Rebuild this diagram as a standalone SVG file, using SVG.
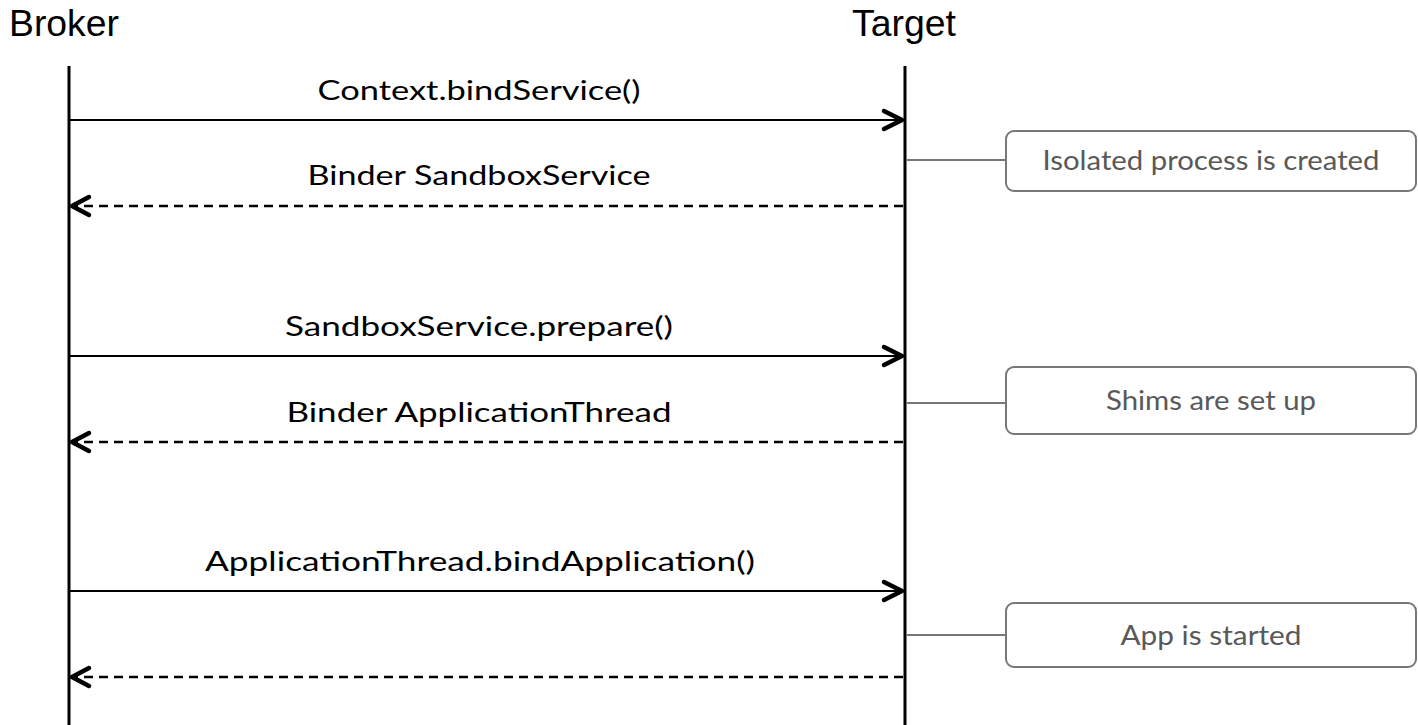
<svg xmlns="http://www.w3.org/2000/svg" width="1418" height="725" viewBox="0 0 1418 725">
  <style>
    .actor { font-family: "Liberation Sans", Arial, sans-serif; font-size: 36px; fill: #000; }
    .lifeline { stroke: #000; stroke-width: 3; fill: none; }
    .msg { stroke: #000; stroke-width: 2.2; fill: none; }
    .ret { stroke: #000; stroke-width: 2.5; fill: none; stroke-dasharray: 9 6; }
    .head { stroke: #000; stroke-width: 4.5; fill: none; stroke-linecap: round; stroke-linejoin: round; }
    .label { font-family: Lato, "Open Sans", sans-serif; font-size: 27px; fill: #000; text-anchor: middle; }
    .note rect { fill: #fff; stroke: #777; stroke-width: 2; }
    .note text { font-family: Lato, "Open Sans", sans-serif; font-size: 27px; fill: #595959; text-anchor: middle; }
    .tie { stroke: #777; stroke-width: 2; }
  </style>

  <!-- participants -->
  <g id="broker">
    <text class="actor" x="9" y="36" textLength="110" lengthAdjust="spacingAndGlyphs">Broker</text>
    <line class="lifeline" x1="69" y1="66" x2="69" y2="725"/>
  </g>
  <g id="target">
    <text class="actor" x="852" y="36" textLength="104" lengthAdjust="spacingAndGlyphs">Target</text>
    <line class="lifeline" x1="905" y1="66" x2="905" y2="725"/>
  </g>

  <!-- messages -->
  <g id="connectors">
    <line class="msg" x1="70" y1="120" x2="902" y2="120"/>
    <polyline class="head" points="884,111 902,120 884,129"/>
    <text class="label" x="479" y="100" textLength="323" lengthAdjust="spacingAndGlyphs">Context.bindService()</text>

    <line class="ret" x1="903" y1="206" x2="74" y2="206"/>
    <polyline class="head" points="89,197 72,206 89,215"/>
    <text class="label" x="479" y="185" textLength="343" lengthAdjust="spacingAndGlyphs">Binder SandboxService</text>

    <line class="msg" x1="70" y1="356" x2="902" y2="356"/>
    <polyline class="head" points="884,347 902,356 884,365"/>
    <text class="label" x="479" y="336" textLength="388" lengthAdjust="spacingAndGlyphs">SandboxService.prepare()</text>

    <line class="ret" x1="903" y1="442" x2="74" y2="442"/>
    <polyline class="head" points="89,433 72,442 89,451"/>
    <text class="label" x="479" y="422" textLength="385" lengthAdjust="spacingAndGlyphs">Binder ApplicationThread</text>

    <line class="msg" x1="70" y1="591" x2="902" y2="591"/>
    <polyline class="head" points="884,582 902,591 884,600"/>
    <text class="label" x="480" y="571" textLength="550" lengthAdjust="spacingAndGlyphs">ApplicationThread.bindApplication()</text>

    <line class="ret" x1="903" y1="677" x2="74" y2="677"/>
    <polyline class="head" points="89,668 72,677 89,686"/>

    <!-- note ties -->
    <line class="tie" x1="906" y1="160" x2="1006" y2="160"/>
    <line class="tie" x1="906" y1="403" x2="1006" y2="403"/>
    <line class="tie" x1="906" y1="635" x2="1006" y2="635"/>
  </g>

  <!-- notes -->
  <g id="note-created" class="note">
    <rect x="1006" y="131" width="410" height="60" rx="8"/>
    <text x="1211" y="170" textLength="337" lengthAdjust="spacingAndGlyphs">Isolated process is created</text>
  </g>
  <g id="note-shims" class="note">
    <rect x="1006" y="367" width="410" height="67" rx="8"/>
    <text x="1211" y="410" textLength="210" lengthAdjust="spacingAndGlyphs">Shims are set up</text>
  </g>
  <g id="note-started" class="note">
    <rect x="1006" y="603" width="410" height="64" rx="8"/>
    <text x="1211" y="645" textLength="181" lengthAdjust="spacingAndGlyphs">App is started</text>
  </g>
</svg>
